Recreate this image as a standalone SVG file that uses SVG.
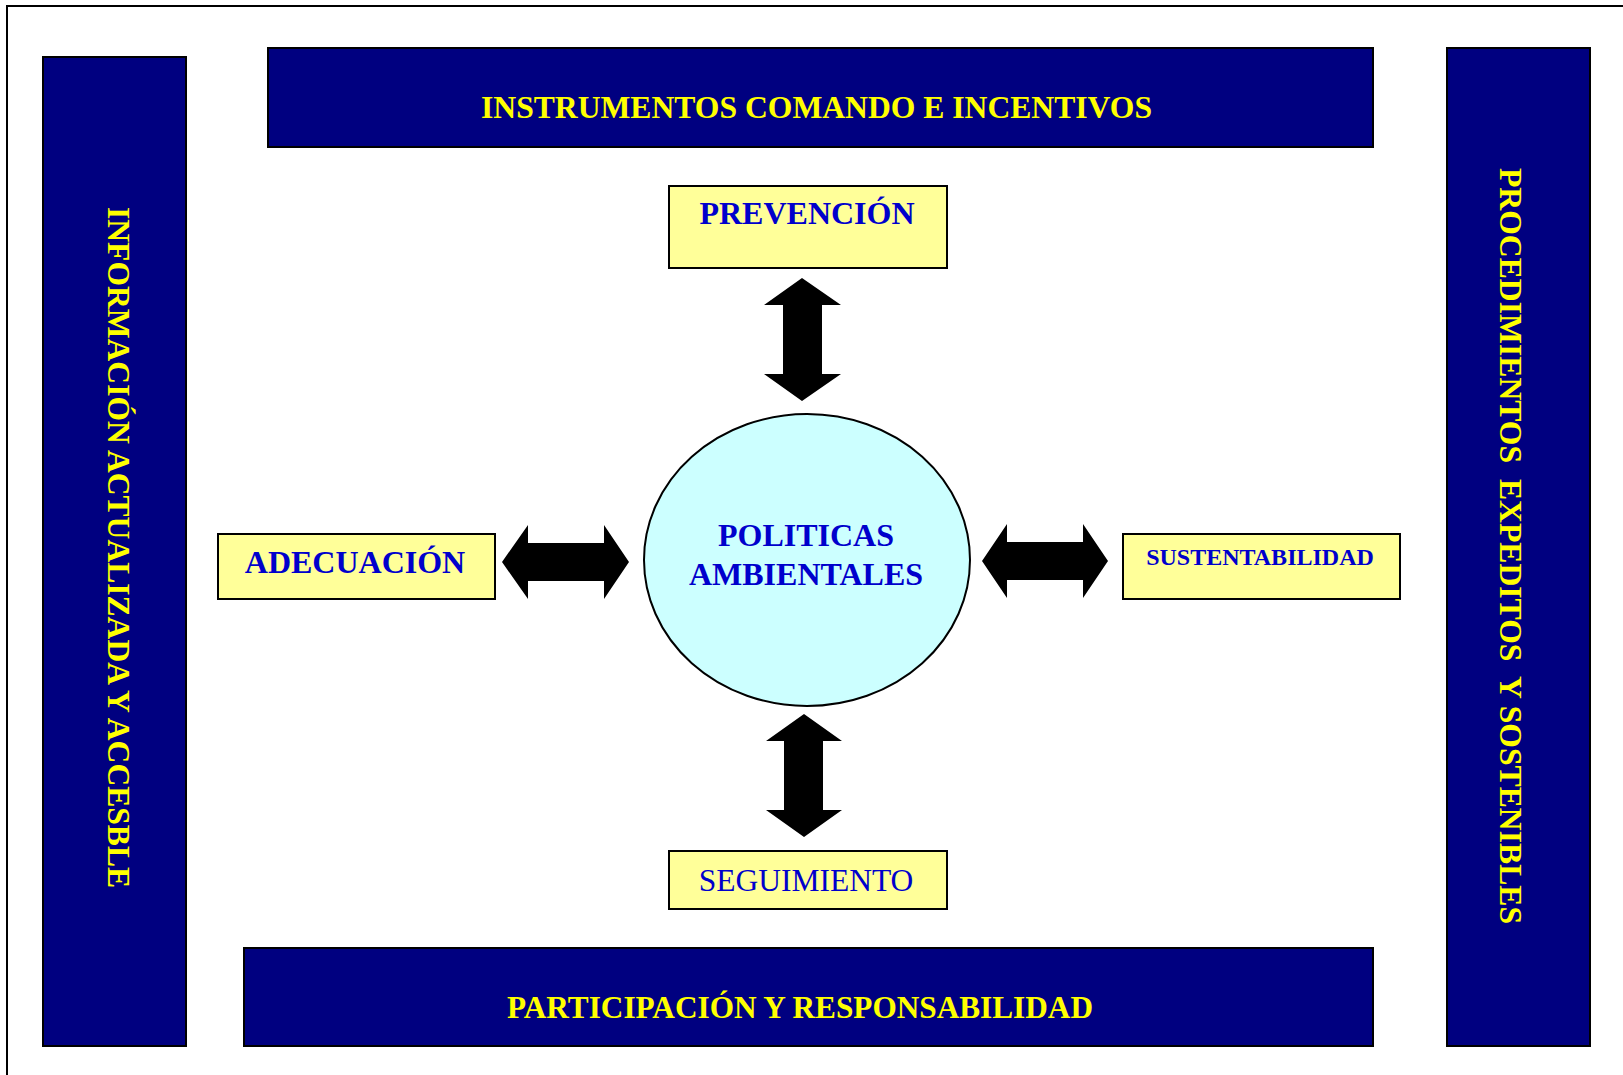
<svg xmlns="http://www.w3.org/2000/svg" width="1623" height="1075" viewBox="0 0 1623 1075">
<style>
.bar{fill:#000080;stroke:#000;stroke-width:2}
.bt{fill:#FFFF00;font-family:"Liberation Serif",serif;font-weight:bold;font-size:32px}
.box{fill:#FFFF99;stroke:#000;stroke-width:2}
.lt{fill:#0000CC;font-family:"Liberation Serif",serif;font-weight:bold;font-size:32px;text-anchor:middle}
.arr{fill:#000}
</style>
<rect width="1623" height="1075" fill="#fff"/>
<rect x="7" y="6" width="1650" height="1100" fill="none" stroke="#000" stroke-width="2"/>
<g id="informacion">
<rect class="bar" x="43" y="57" width="143" height="989"/>
<text class="bt" transform="translate(108,207) rotate(90)" textLength="681" lengthAdjust="spacingAndGlyphs">INFORMACIÓN ACTUALIZADA Y ACCESBLE</text>
</g>
<g id="instrumentos">
<rect class="bar" x="268" y="48" width="1105" height="99"/>
<text class="bt" x="481" y="118" textLength="671" lengthAdjust="spacingAndGlyphs">INSTRUMENTOS COMANDO E INCENTIVOS</text>
</g>
<g id="procedimientos">
<rect class="bar" x="1447" y="48" width="143" height="998"/>
<text class="bt" transform="translate(1500,168) rotate(90)" textLength="756" lengthAdjust="spacingAndGlyphs" xml:space="preserve">PROCEDIMIENTOS  EXPEDITOS  Y SOSTENIBLES</text>
</g>
<g id="participacion">
<rect class="bar" x="244" y="948" width="1129" height="98"/>
<text class="bt" x="507" y="1018" textLength="586" lengthAdjust="spacingAndGlyphs">PARTICIPACIÓN Y RESPONSABILIDAD</text>
</g>
<g id="prevencion">
<rect class="box" x="669" y="186" width="278" height="82"/>
<text class="lt" x="807" y="224">PREVENCIÓN</text>
</g>
<g id="adecuacion">
<rect class="box" x="218" y="534" width="277" height="65"/>
<text class="lt" x="355" y="573">ADECUACIÓN</text>
</g>
<g id="sustentabilidad">
<rect class="box" x="1123" y="534" width="277" height="65"/>
<text class="lt" x="1260" y="565" style="font-size:24px">SUSTENTABILIDAD</text>
</g>
<g id="seguimiento">
<rect class="box" x="669" y="851" width="278" height="58"/>
<text class="lt" x="806" y="891" style="font-weight:normal;font-size:31.5px">SEGUIMIENTO</text>
</g>
<g id="politicas">
<ellipse cx="807" cy="560" rx="163" ry="146" fill="#CCFFFF" stroke="#000" stroke-width="2"/>
<text class="lt" x="806" y="546">POLITICAS</text>
<text class="lt" x="806" y="585">AMBIENTALES</text>
</g>
<g id="connectors">
<polygon class="arr" points="802,278 841,305 822,305 822,374 841,374 802,401 764,374 783,374 783,305 764,305"/>
<polygon class="arr" points="804,714 842,741 823,741 823,810 842,810 804,837 766,810 784,810 784,741 766,741"/>
<polygon class="arr" points="502,562 528,525 528,543 604,543 604,525 629,562 604,599 604,581 528,581 528,599"/>
<polygon class="arr" points="982,561 1007,524 1007,542 1083,542 1083,524 1108,561 1083,598 1083,580 1007,580 1007,598"/>
</g>
</svg>
